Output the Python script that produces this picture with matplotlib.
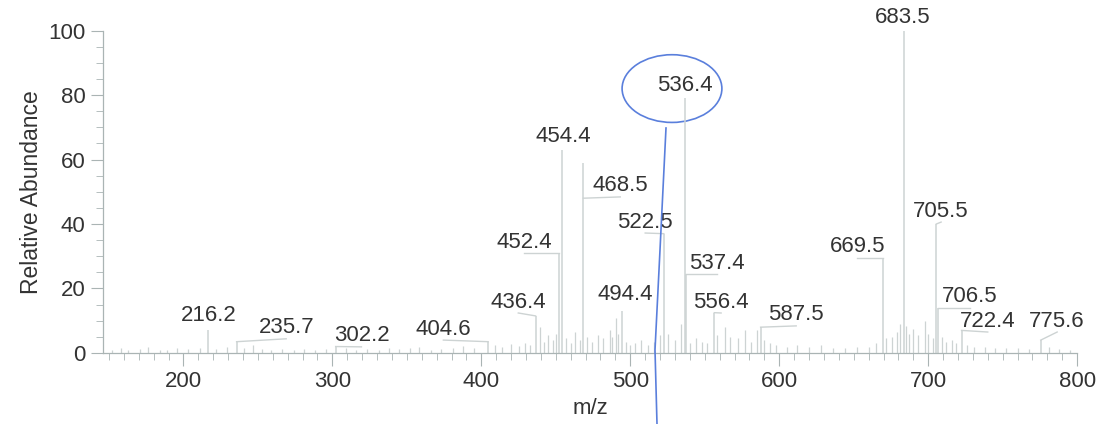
import matplotlib.pyplot as plt
from matplotlib.patches import Ellipse
from matplotlib.lines import Line2D

plt.rcParams['font.family'] = ['Liberation Sans', 'DejaVu Sans']

# Labelled peaks: m/z and relative abundance
peak_mz = [216.2, 235.7, 302.2, 404.6, 436.4, 452.4, 454.4, 468.5, 494.4, 522.5,
           536.4, 537.4, 556.4, 587.5, 669.5, 683.5, 705.5, 706.5, 722.4, 775.6]
peak_int = [7.0, 3.5, 2.0, 3.5, 11.5, 31.0, 63.0, 59.0, 13.0, 37.0,
            79.0, 24.5, 12.5, 8.0, 29.5, 100.0, 40.0, 14.0, 7.0, 4.0]

# Label text position (m/z, abundance) and where the leader meets the peak
label_mz = [216.8, 269.0, 319.5, 374.5, 424.8, 428.9, 455.0, 493.3, 496.6, 510.0,
            536.9, 558.4, 561.0, 611.4, 652.3, 683.2, 708.7, 728.0, 740.0, 786.6]
label_int = [11.5, 7.8, 5.3, 7.4, 15.8, 34.4, 67.0, 51.8, 18.0, 40.6,
             83.0, 27.9, 15.8, 11.8, 32.9, 104.0, 44.0, 17.4, 9.9, 9.9]
leader_int = [7.0, 3.5, 2.0, 3.5, 11.5, 31.0, 63.0, 48.0, 13.0, 37.0,
              79.0, 24.5, 12.5, 8.0, 29.5, 100.0, 40.0, 14.0, 7.0, 4.0]

# Small unlabelled peaks
noise_mz = [152, 158, 163, 171, 176, 184, 189, 196, 203, 211, 222, 229, 241, 247,
            253, 259, 266, 274, 281, 288, 296, 309, 316, 323, 331, 338, 345, 352,
            358, 366, 373, 381, 388, 395, 409, 414, 420, 425, 429, 433, 439.6, 442,
            445, 448, 450, 457, 460, 463, 466, 471, 474, 478, 482, 486.6, 488, 490.6,
            492, 497, 500, 503, 507, 512, 516, 520, 525, 530, 534, 540, 544, 548,
            551.7, 558, 563.8, 567, 572, 577, 581, 585, 590, 594, 598, 605, 612, 620,
            628, 636, 644, 652, 660, 665, 672, 676, 679, 681, 685, 687, 690, 693,
            698, 700, 703, 709, 712, 716, 719, 726, 731, 738, 745, 752, 760, 768,
            781, 788, 795]
noise_int = [1.0, 1.5, 0.8, 1.2, 1.8, 1.0, 0.8, 1.4, 1.1, 1.6, 1.2, 2.0, 1.4, 2.5,
             1.1, 0.9, 1.3, 1.0, 1.2, 0.8, 1.1, 1.5, 0.9, 1.3, 1.0, 1.4, 1.1, 1.6,
             1.8, 1.0, 1.3, 1.4, 2.2, 1.5, 2.4, 1.8, 2.9, 2.1, 3.2, 2.5, 8.0, 3.5,
             5.5, 4.0, 6.0, 4.5, 3.0, 6.5, 4.0, 5.0, 3.5, 5.5, 4.5, 7.0, 5.0, 11.0,
             6.0, 3.5, 2.5, 3.0, 4.0, 2.5, 3.5, 5.5, 6.0, 4.0, 9.0, 3.0, 4.5, 3.5,
             3.0, 5.5, 8.0, 5.0, 4.5, 7.0, 3.5, 7.0, 4.0, 3.0, 2.5, 2.0, 2.5, 1.8,
             2.4, 1.5, 1.6, 2.0, 1.8, 3.0, 4.5, 5.0, 6.5, 9.0, 8.5, 6.0, 7.5, 5.5,
             10.0, 6.0, 4.5, 5.0, 3.5, 4.0, 3.0, 2.5, 2.0, 1.8, 1.6, 1.5, 1.4, 1.2,
             1.8, 1.3, 1.0]

text_col = '#333333'
peak_col = '#cdd3d3'
axis_col = '#aab4b4'

fig = plt.figure(figsize=(10.98, 4.24), dpi=100)
ax = fig.add_axes([0.0938, 0.1675, 0.8872, 0.7605])

ax.vlines(noise_mz, 0, noise_int, color=peak_col, lw=0.9)
ax.vlines(peak_mz, 0, peak_int, color=peak_col, lw=1.1)

for mz, lx, ly, jy in zip(peak_mz, label_mz, label_int, leader_int):
    ax.text(lx, ly, f'{mz:.1f}', ha='center', va='center', fontsize=16, color=text_col)
    if abs(lx - mz) > 3:
        # leader from under the label to the peak
        ax.plot([lx, mz], [ly - 3.4, jy], color=peak_col, lw=1.0)

ax.set_xlim(146, 800)
ax.set_ylim(0, 100)
ax.set_xticks(range(200, 801, 100))
ax.set_xticks(range(150, 801, 10), minor=True)
ax.set_yticks(range(0, 101, 20))
ax.set_yticks(range(0, 101, 5), minor=True)
ax.tick_params(axis='both', which='major', labelsize=16, labelcolor=text_col,
               color=axis_col, length=9, width=0.8)
ax.tick_params(axis='both', which='minor', color=axis_col, length=5, width=0.6)
ax.tick_params(axis='x', pad=4)

for side in ['top', 'right']:
    ax.spines[side].set_visible(False)
for side in ['left', 'bottom']:
    ax.spines[side].set_color(axis_col)
    ax.spines[side].set_linewidth(0.9)

ax.set_xlabel('m/z', fontsize=16, color=text_col, labelpad=4)
ax.set_ylabel('Relative Abundance', fontsize=16.5, color=text_col, labelpad=4)
ax.patch.set_alpha(0)

# pen circle around the 536.4 peak and a stroke running down
pen = '#5a7fdc'
ax.add_patch(Ellipse((528, 82), 67, 21, fill=False, ec=pen, lw=1.2, clip_on=False))
fig.add_artist(Line2D([666 / 1098, 660 / 1098, 655 / 1098, 657 / 1098],
                      [1 - 128 / 424, 1 - 250 / 424, 1 - 350 / 424, 1 - 424 / 424],
                      color=pen, lw=1.2))

fig.savefig('out.png', dpi=100)
